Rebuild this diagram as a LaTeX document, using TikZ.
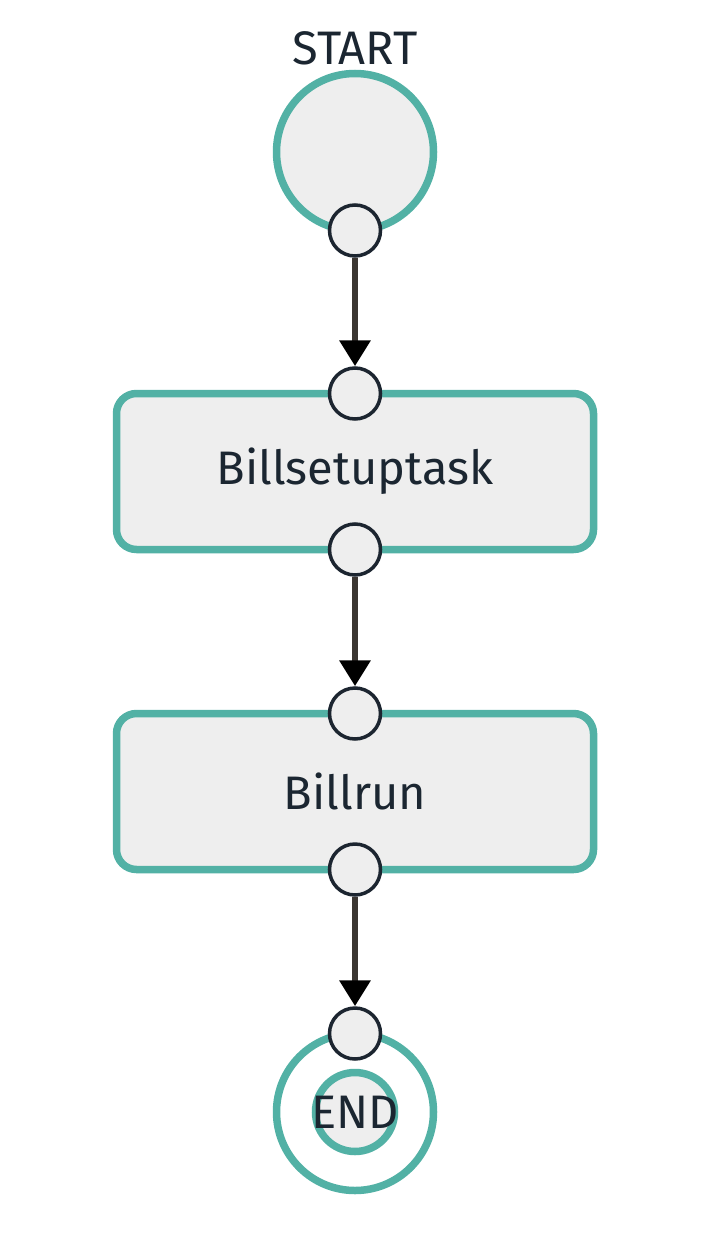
\documentclass[tikz,border=0pt]{standalone}
\usepackage{fontspec}
\setmainfont{Fira Sans}
\usetikzlibrary{arrows.meta,positioning}
\definecolor{flowteal}{HTML}{52B1A5}
\definecolor{stategray}{HTML}{EEEEEE}
\definecolor{portdark}{HTML}{1C2530}
\definecolor{flowdark}{HTML}{3B3632}
\definecolor{labeldark}{HTML}{1B2631}
\newcommand{\labelfont}{\fontsize{47}{57}\selectfont}
\tikzset{
  state/.style     = {shape=circle, draw=flowteal, line width=7.5pt,
                      fill=stategray, minimum size=157pt,
                      inner sep=0pt, outer sep=0pt},
  endstate/.style  = {state, fill=white},
  innerend/.style  = {state, minimum size=79pt},
  task/.style      = {shape=rectangle, rounded corners=20pt,
                      draw=flowteal, line width=7.5pt, fill=stategray,
                      minimum width=477pt, minimum height=156pt,
                      outer sep=0pt, text=labeldark, font=\labelfont},
  port/.style      = {shape=circle, draw=portdark, line width=3.5pt,
                      fill=stategray, minimum size=51pt, inner sep=0pt},
  flow/.style      = {draw=flowdark, line width=6.5pt,
                      -{Triangle[color=black, width=30pt, length=26pt]}},
  statelabel/.style= {text=labeldark, font=\labelfont, inner sep=0pt},
}

\begin{document}
\begin{tikzpicture}[x=1pt, y=-1pt]
    \useasboundingbox (0,0) rectangle (702,1260);
    % states and tasks
    \node [state] (start) at (355,152) {};
    \node [statelabel, anchor=base] (startlabel) at (355,65) {START};
    \node [task] (setup) at (355,471.5) {Billsetuptask};
    \node [task] (run) at (355,791.5) {Billrun};
    \node [endstate] (end) at (355,1112) {};
    \node [innerend] (endcore) at (end.center) {};
    \node [statelabel] (endlabel) at (end.center) {END};
    % ports
    \node [port] (startout) at (start.south) {};
    \node [port] (setupin)  at (setup.north) {};
    \node [port] (setupout) at (setup.south) {};
    \node [port] (runin)    at (run.north) {};
    \node [port] (runout)   at (run.south) {};
    \node [port] (endin)    at (end.north) {};
    % transitions
    \draw [flow] (startout) -- (setupin);
    \draw [flow] (setupout) -- (runin);
    \draw [flow] (runout) -- (endin);
\end{tikzpicture}
\end{document}
